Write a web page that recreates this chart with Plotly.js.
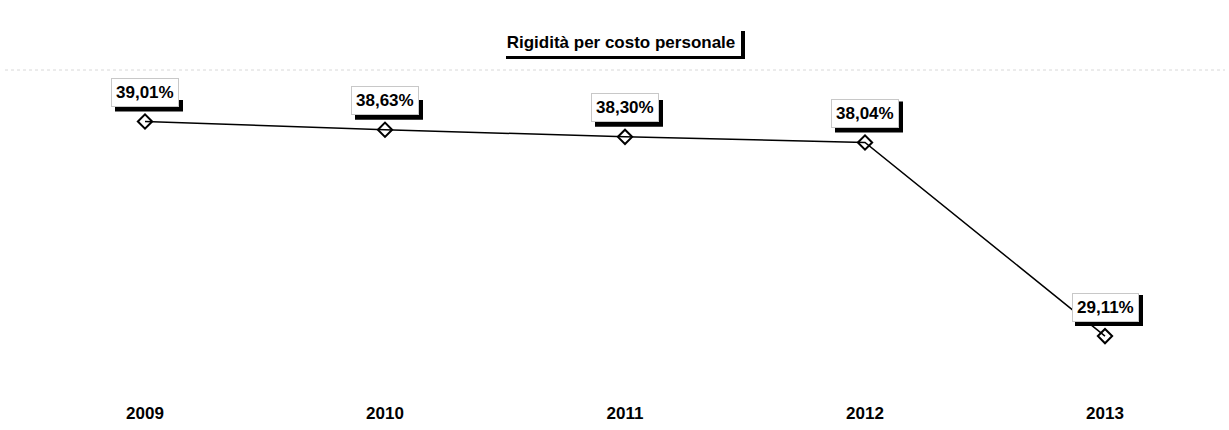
<!DOCTYPE html>
<html>
<head>
<meta charset="utf-8">
<script src="https://cdn.plot.ly/plotly-3.0.1.min.js"></script>
<style>
  body { margin: 0; background: #fff; }
  #chart { width: 1229px; height: 430px; }
</style>
</head>
<body>
<div id="chart"></div>
<script>
var years = ["2009", "2010", "2011", "2012", "2013"];
var values = [39.01, 38.63, 38.30, 38.04, 29.11];
var chart_title = "Rigidità per costo personale";

var W = 1229, H = 430;
var m = {l: 25, r: 4, t: 100, b: 33};
var pw = W - m.l - m.r, ph = H - m.t - m.b;

// pixel -> paper helpers for the title box
function px(x) { return (x - m.l) / pw; }
function py(y) { return (H - m.b - y) / ph; }

function fmt(v) {
    return v.toFixed(2).replace(".", ",") + "%";
}

var FONT = "Liberation Sans, Arial, sans-serif";
var LIFT = 29;   // label centre above the point, px

var annotations = [];
var shapes = [
    // title shadow + box
    {type: "rect", xref: "paper", yref: "paper", layer: "above",
     x0: px(506), x1: px(745), y0: py(59), y1: py(31),
     fillcolor: "black", line: {width: 0}},
    {type: "rect", xref: "paper", yref: "paper", layer: "above",
     x0: px(502), x1: px(741), y0: py(56), y1: py(28),
     fillcolor: "white", line: {width: 0}},
    // faint dotted frame line at the top
    {type: "line", xref: "paper", yref: "paper", layer: "below",
     x0: px(5), x1: px(1225), y0: py(70), y1: py(70),
     line: {color: "#d8d8d8", width: 1, dash: "dot"}}
];

for (let i = 0; i < years.length; i++) {
    // black drop shadow behind each label box
    shapes.push({
        type: "rect", layer: "above",
        xref: "x", yref: "y",
        xsizemode: "pixel", ysizemode: "pixel",
        xanchor: i, yanchor: values[i],
        x0: -30, x1: 38, y0: LIFT - 19, y1: LIFT + 12,
        fillcolor: "black", line: {width: 0}
    });
    annotations.push({
        x: i, y: values[i], xref: "x", yref: "y",
        text: "<b>" + fmt(values[i]) + "</b>",
        showarrow: false, yshift: LIFT,
        font: {family: FONT, size: 17, color: "black"},
        bgcolor: "white", borderpad: 4, borderwidth: 1, bordercolor: "#c8c8c8"
    });
}

var trace = {
    type: "scatter",
    mode: "lines+markers",
    x: years,
    y: values,
    line: {color: "black", width: 1.5},
    marker: {symbol: "diamond-open", size: 11, color: "black", line: {width: 2, color: "black"}},
    hoverinfo: "none"
};

var layout = {
    width: W,
    height: H,
    margin: m,
    paper_bgcolor: "white",
    plot_bgcolor: "white",
    showlegend: false,
    title: {
        text: "<b>" + chart_title + "</b>",
        font: {family: FONT, size: 17, color: "black"},
        xref: "paper", x: px(621), xanchor: "center",
        yref: "container", y: 1 - 42 / H, yanchor: "middle"
    },
    xaxis: {
        type: "category",
        range: [-0.5, 4.5],
        showgrid: false, zeroline: false, showline: false,
        ticks: "",
        ticklabelstandoff: 4,
        tickfont: {family: FONT, size: 17, color: "black", weight: "bold"}
    },
    yaxis: {
        range: [26.3, 40.0],
        showgrid: false, zeroline: false, showline: false,
        showticklabels: false, ticks: ""
    },
    shapes: shapes,
    annotations: annotations
};

Plotly.newPlot("chart", [trace], layout, {staticPlot: true});
</script>
</body>
</html>
